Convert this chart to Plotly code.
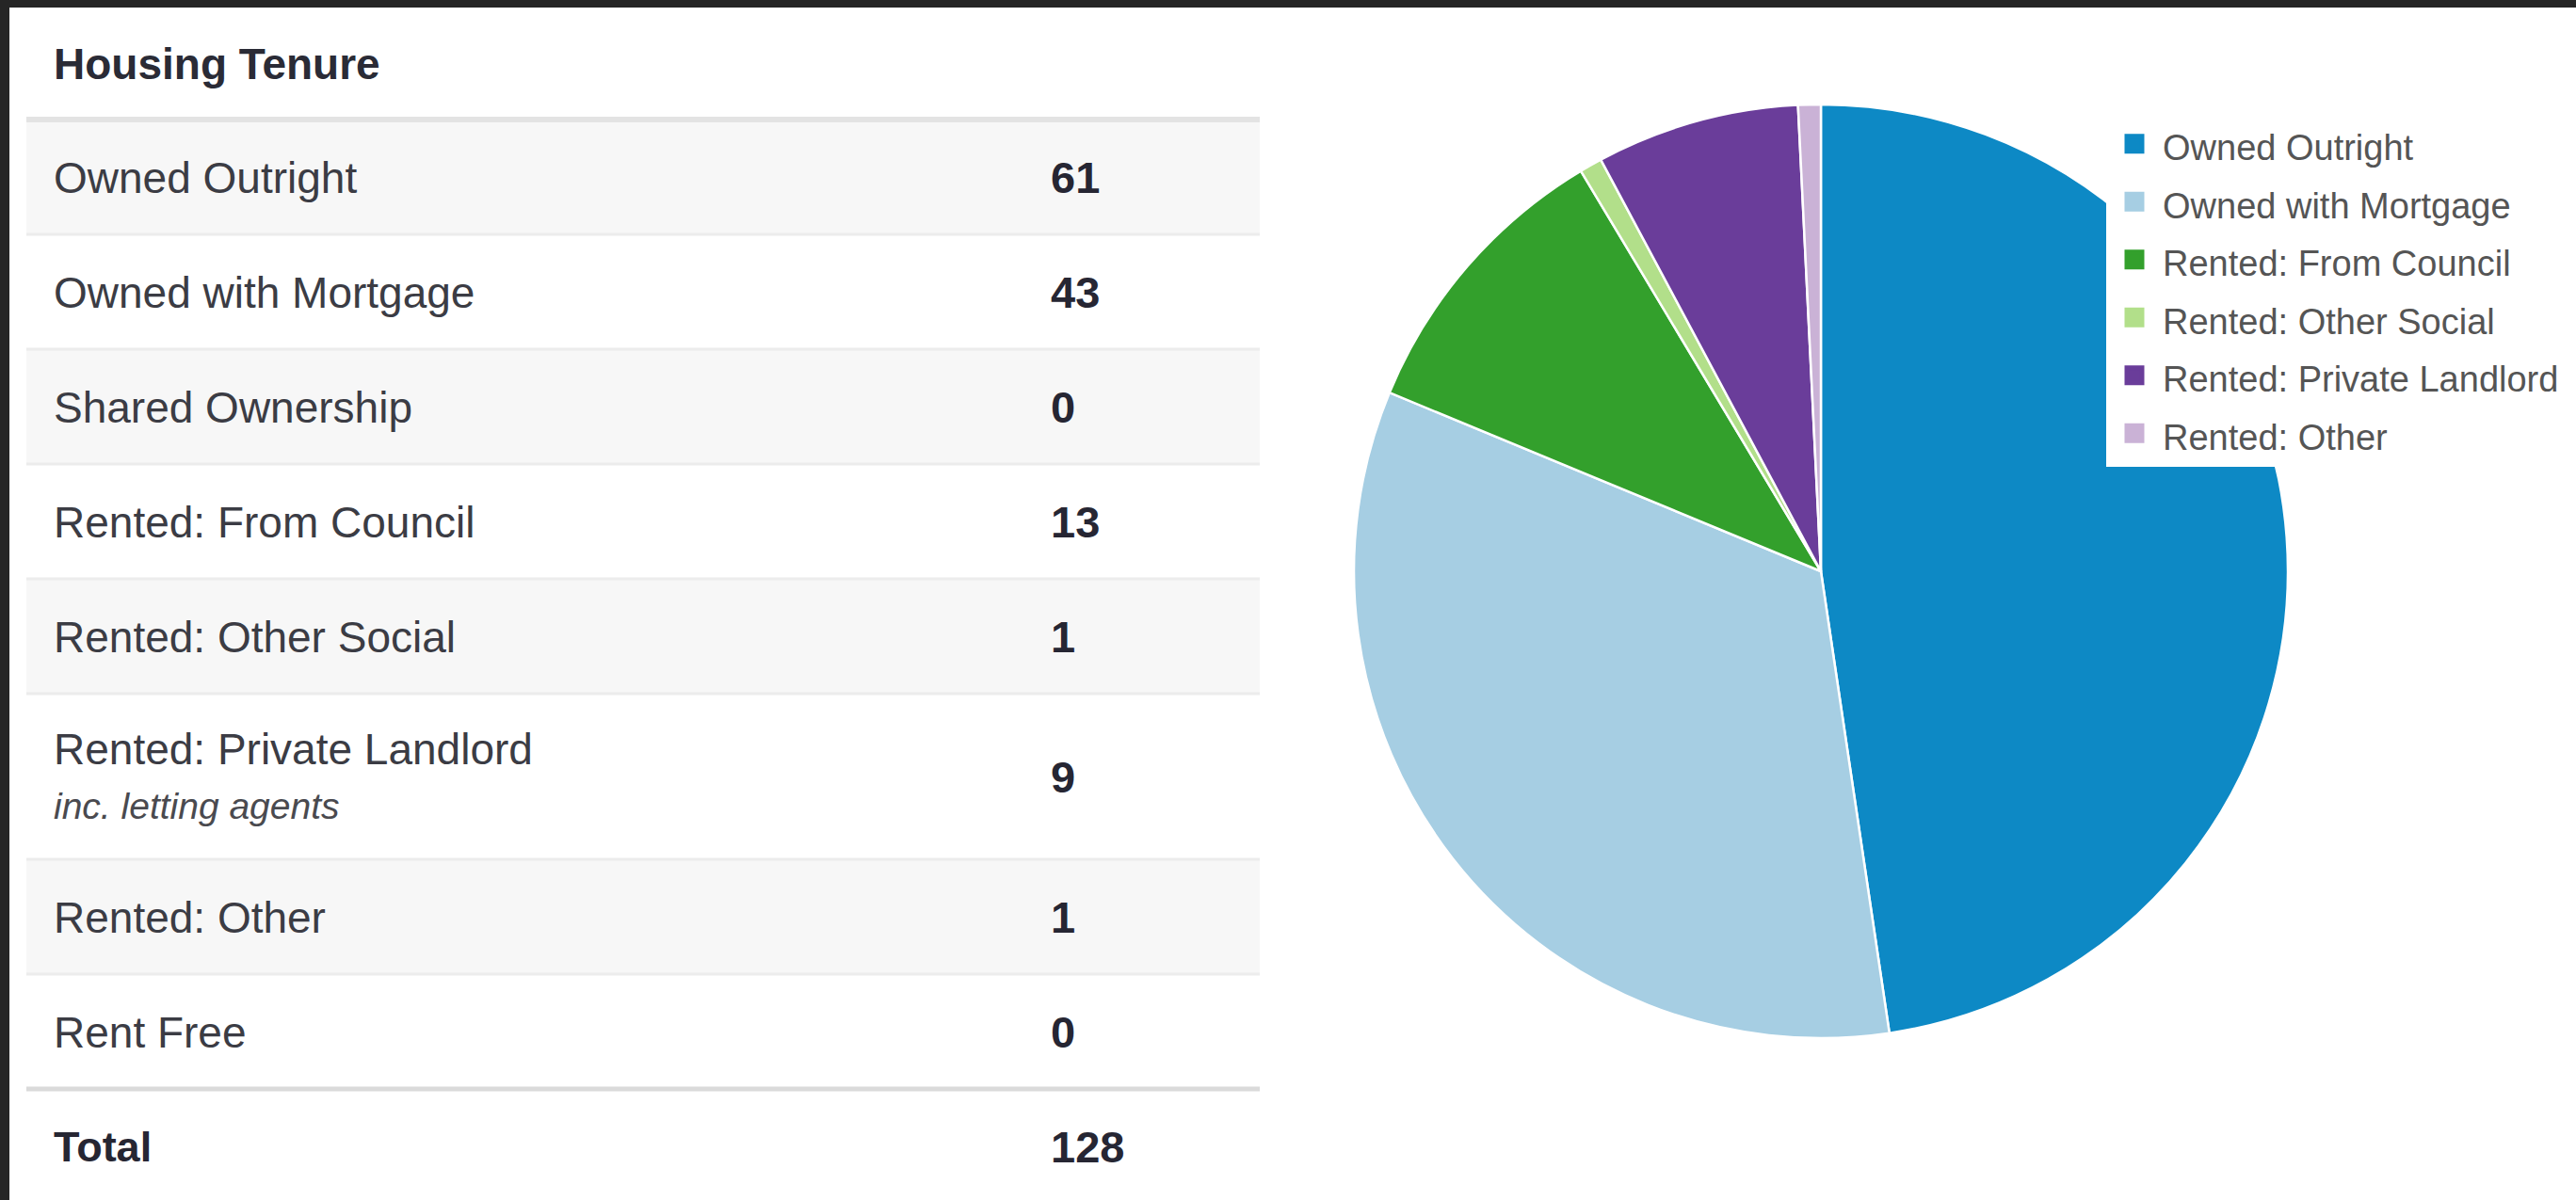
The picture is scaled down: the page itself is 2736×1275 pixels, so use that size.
import plotly.graph_objects as go

# ---------------- data ----------------
TITLE = "Housing Tenure"
CATEGORIES = [
    "Owned Outright",
    "Owned with Mortgage",
    "Shared Ownership",
    "Rented: From Council",
    "Rented: Other Social",
    "Rented: Private Landlord",
    "Rented: Other",
    "Rent Free",
]
NOTES = ["", "", "", "", "", "inc. letting agents", "", ""]
VALUES = [61, 43, 0, 13, 1, 9, 1, 0]
TOTAL_LABEL = "Total"

# ---------------- styles ----------------
SLICE_COLORS = {
    "Owned Outright": "#0d89c5",
    "Owned with Mortgage": "#a6cee3",
    "Rented: From Council": "#33a02c",
    "Rented: Other Social": "#b2df8a",
    "Rented: Private Landlord": "#6a3d9a",
    "Rented: Other": "#cab2d6",
}
FONT = "Liberation Sans, Arial, Helvetica, sans-serif"
W, H = 2736, 1275
ML, MT = 10, 8
PW, PH = W - ML, H - MT
TABLE_L, TABLE_R = 18, 1328
LABEL_X, VALUE_X = 47, 1106
HEADER_H, ROW_H, TALL_H = 119, 122, 176
NOTE_SHIFT = 30
TEXT_DY = 5
PIE_CX, PIE_CY, PIE_R = 1934, 607, 496
LEG_X, LEG_Y = 2237, 117

# ---------------- table geometry (derived) ----------------
heights = [TALL_H if n else ROW_H for n in NOTES]
tops = []
y = HEADER_H
for h in heights:
    tops.append(y)
    y += h
total_top = y
centers = [t + h / 2 for t, h in zip(tops, heights)]
total_center = total_top + ROW_H / 2
fills = ["#f7f7f7" if i % 2 == 0 else "#ffffff" for i in range(len(CATEGORIES))]

fig = go.Figure()

# row backgrounds
fig.add_trace(go.Bar(
    orientation="h", y=centers, x=[TABLE_R - TABLE_L] * len(centers), base=TABLE_L,
    width=heights, marker=dict(color=fills, line=dict(width=0)),
    hoverinfo="skip", showlegend=False, xaxis="x", yaxis="y",
))

label_y = [c - NOTE_SHIFT + TEXT_DY if n else c + TEXT_DY for c, n in zip(centers, NOTES)]
note_rows = [(c + NOTE_SHIFT + TEXT_DY, n) for c, n in zip(centers, NOTES) if n]

# header
fig.add_trace(go.Scatter(
    x=[LABEL_X], y=[HEADER_H / 2 + TEXT_DY], mode="text", text=[f"<b>{TITLE}</b>"],
    textposition="middle right", textfont=dict(family=FONT, size=46, color="#2a2b36"),
    hoverinfo="skip", showlegend=False, cliponaxis=False,
))
# labels
fig.add_trace(go.Scatter(
    x=[LABEL_X] * len(CATEGORIES), y=label_y, mode="text", text=CATEGORIES,
    textposition="middle right", textfont=dict(family=FONT, size=46, color="#3b3c44"),
    hoverinfo="skip", showlegend=False, cliponaxis=False,
))
# notes
fig.add_trace(go.Scatter(
    x=[LABEL_X] * len(note_rows), y=[r[0] for r in note_rows], mode="text",
    text=[f"<i>{r[1]}</i>" for r in note_rows],
    textposition="middle right", textfont=dict(family=FONT, size=39, color="#4a4a4f"),
    hoverinfo="skip", showlegend=False, cliponaxis=False,
))
# values
fig.add_trace(go.Scatter(
    x=[VALUE_X] * len(VALUES), y=[c + TEXT_DY for c in centers], mode="text",
    text=[f"<b>{v}</b>" for v in VALUES],
    textposition="middle right", textfont=dict(family=FONT, size=47, color="#262633"),
    hoverinfo="skip", showlegend=False, cliponaxis=False,
))
# total
fig.add_trace(go.Scatter(
    x=[LABEL_X, VALUE_X], y=[total_center + TEXT_DY] * 2, mode="text",
    text=[f"<b>{TOTAL_LABEL}</b>", f"<b>{sum(VALUES)}</b>"],
    textposition="middle right", textfont=dict(family=FONT, size=[45, 47], color="#262633"),
    hoverinfo="skip", showlegend=False, cliponaxis=False,
))

# pie
pie_cats = [c for c, v in zip(CATEGORIES, VALUES) if v > 0]
pie_vals = [v for v in VALUES if v > 0]
fig.add_trace(go.Pie(
    labels=pie_cats, values=pie_vals, sort=False, direction="clockwise", rotation=0,
    textinfo="none", hoverinfo="label+value+percent",
    marker=dict(colors=[SLICE_COLORS[c] for c in pie_cats], line=dict(color="#ffffff", width=2.5)),
    domain=dict(
        x=[(PIE_CX - PIE_R - ML) / PW, (PIE_CX + PIE_R - ML) / PW],
        y=[(H - (PIE_CY + PIE_R)) / PH, (H - (PIE_CY - PIE_R)) / PH],
    ),
    showlegend=False,
))

# legend entries for the pie slices (larger square swatches)
for c in pie_cats:
    col = SLICE_COLORS[c]
    fig.add_trace(go.Scatter(
        x=[None], y=[None], mode="markers", name=f'<span style="font-size:38px">{c}</span>',
        marker=dict(symbol="square", size=16, color=col, line=dict(color=col, width=5)),
        hoverinfo="skip", showlegend=True,
    ))

# separator lines
shapes = [dict(type="rect", xref="paper", yref="paper", x0=0, x1=1, y0=0, y1=1,
               fillcolor="#ffffff", line=dict(width=0), layer="below")]
shapes.append(dict(type="line", xref="x", yref="y", x0=TABLE_L, x1=TABLE_R, y0=HEADER_H, y1=HEADER_H,
                   line=dict(color="#e3e3e3", width=6)))
for t in tops[1:]:
    shapes.append(dict(type="line", xref="x", yref="y", x0=TABLE_L, x1=TABLE_R, y0=t, y1=t,
                       line=dict(color="#ececec", width=3)))
shapes.append(dict(type="line", xref="x", yref="y", x0=TABLE_L, x1=TABLE_R, y0=total_top, y1=total_top,
                   line=dict(color="#dadada", width=5)))

fig.update_layout(
    width=W, height=H,
    margin=dict(l=ML, t=MT, r=0, b=0, pad=0),
    paper_bgcolor="#252525", plot_bgcolor="rgba(0,0,0,0)",
    xaxis=dict(domain=[0, TABLE_R / PW], range=[0, TABLE_R], visible=False, fixedrange=True),
    yaxis=dict(domain=[0, 1], range=[PH, 0], visible=False, fixedrange=True),
    shapes=shapes,
    showlegend=True,
    legend=dict(
        x=(LEG_X - ML) / PW, xanchor="left", y=(H - LEG_Y) / PH, yanchor="top",
        bgcolor="#ffffff", borderwidth=0, itemwidth=50, itemsizing="trace",
        font=dict(family=FONT, size=45, color="#555555"),
        traceorder="normal",
    ),
    bargap=0,
)

fig.write_html("out.html")
